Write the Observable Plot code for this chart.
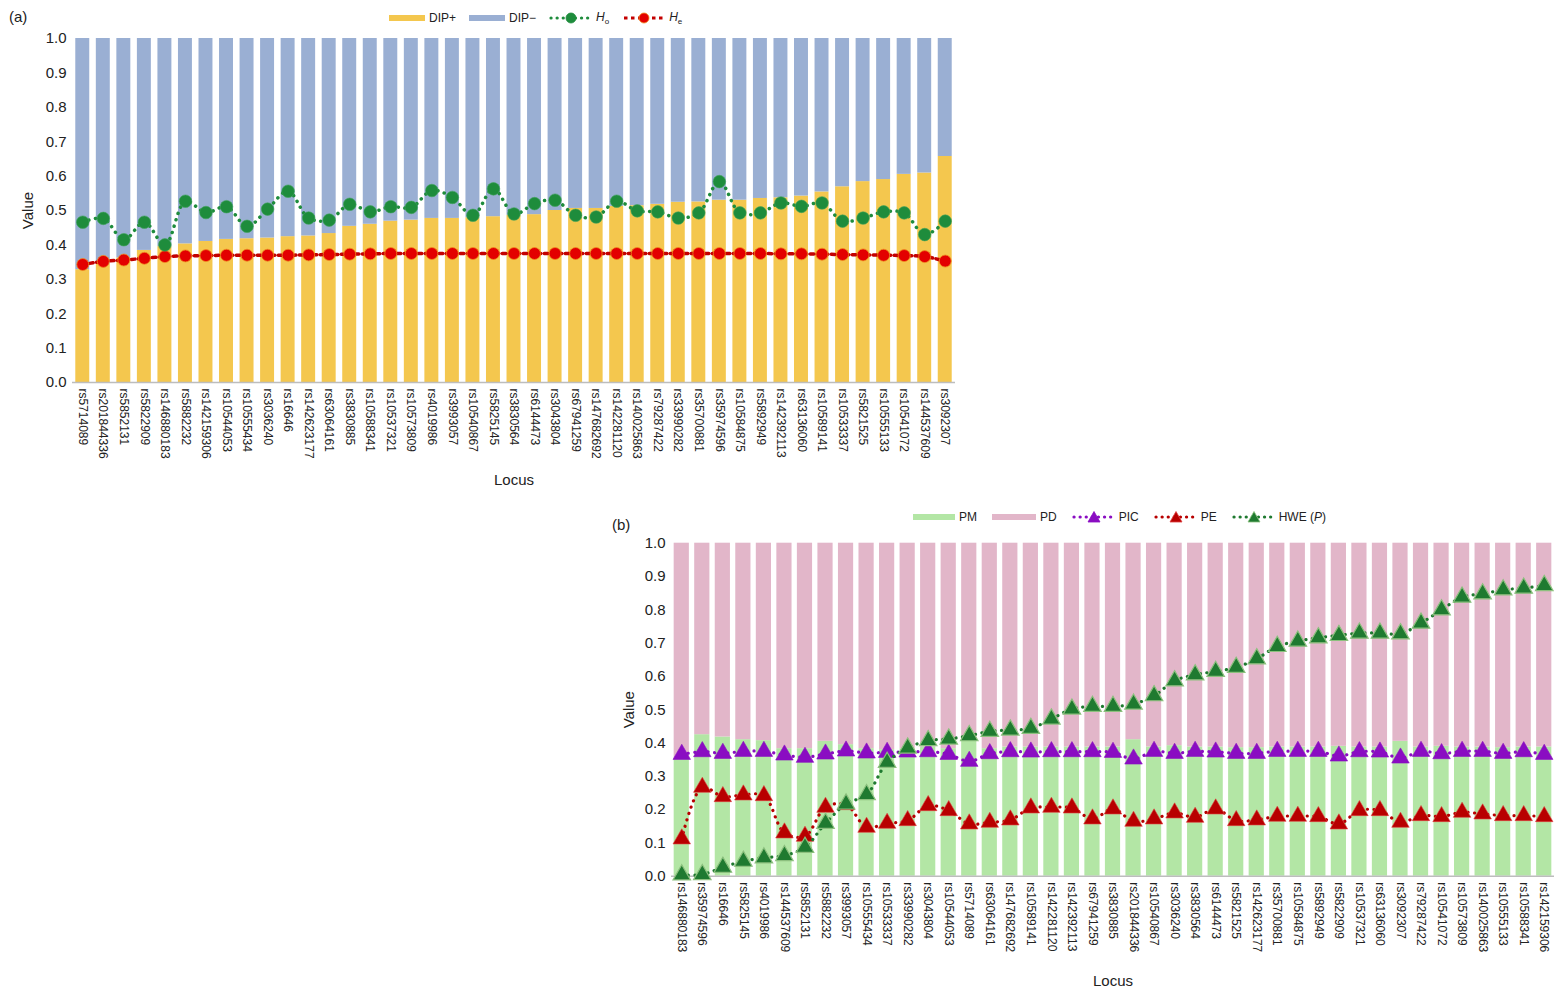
<!DOCTYPE html>
<html>
<head>
<meta charset="utf-8">
<script src="https://cdn.jsdelivr.net/npm/d3@7"></script>
<script src="https://cdn.jsdelivr.net/npm/@observablehq/plot@0.6"></script>
<style>
  html, body { margin: 0; padding: 0; background: #fff; }
  body { width: 1554px; height: 990px; position: relative; overflow: hidden; font-family: "Liberation Sans", Arial, sans-serif; color: #222; }
  .abs { position: absolute; }
  .front { z-index: 5; }
  .panel-tag { font-size: 15px; color: #222; }
  .legend { display: flex; align-items: center; font-size: 12px; color: #222; white-space: nowrap; }
  .legend .item { display: flex; align-items: center; }
  .legend svg { display: block; margin-right: 3px; }
  .legend sub { font-size: 8px; vertical-align: -3px; }
  #legendA .item { margin-right: 13px; }
  #legendB .item { margin-right: 15px; }
</style>
</head>
<body>
<div id="chartA" class="abs" style="left:0px;top:0px;"></div>
<div id="chartB" class="abs" style="left:600px;top:500px;"></div>

<div id="tagA" class="abs panel-tag front" style="left:9px;top:8px;">(a)</div>
<div id="legendA" class="abs legend front" style="left:389px;top:10px;"></div>
<div id="tagB" class="abs panel-tag front" style="left:612px;top:516px;">(b)</div>
<div id="legendB" class="abs legend front" style="left:913px;top:510px;"></div>

<script>
// ---------------- Panel (a) data ----------------
const lociA = ["rs5714089","rs201844336","rs5852131","rs5822909","rs146880183","rs5882232","rs142159306","rs10544053","rs10555434","rs3036240","rs16646","rs142623177","rs63064161","rs3830885","rs10588341","rs10537321","rs10573809","rs4019986","rs3993057","rs10540867","rs5825145","rs3830564","rs6144473","rs3043804","rs67941259","rs147682692","rs142281120","rs140025863","rs79287422","rs33990282","rs35700881","rs35974596","rs10584875","rs5892949","rs142392113","rs63136060","rs10589141","rs10533337","rs5821525","rs10555133","rs10541072","rs144537609","rs3092307"];
const dipPlus = [0.328,0.345,0.362,0.384,0.395,0.403,0.410,0.416,0.418,0.420,0.424,0.426,0.433,0.454,0.460,0.469,0.472,0.477,0.477,0.479,0.482,0.486,0.488,0.500,0.506,0.506,0.512,0.514,0.518,0.524,0.525,0.530,0.530,0.535,0.537,0.542,0.554,0.569,0.584,0.590,0.605,0.609,0.657];
const ho = [0.466,0.477,0.415,0.466,0.400,0.527,0.494,0.511,0.454,0.504,0.556,0.478,0.472,0.518,0.496,0.511,0.509,0.558,0.538,0.486,0.563,0.490,0.520,0.530,0.486,0.481,0.527,0.499,0.496,0.478,0.493,0.584,0.493,0.493,0.522,0.512,0.522,0.469,0.478,0.496,0.493,0.430,0.469];
const he = [0.343,0.352,0.356,0.361,0.366,0.368,0.369,0.370,0.370,0.370,0.370,0.371,0.372,0.373,0.374,0.375,0.375,0.375,0.375,0.375,0.375,0.375,0.375,0.375,0.375,0.375,0.375,0.375,0.375,0.375,0.375,0.375,0.375,0.375,0.374,0.374,0.373,0.372,0.371,0.370,0.369,0.366,0.353];

// ---------------- Panel (b) data ----------------
const lociB = ["rs146880183","rs35974596","rs16646","rs5825145","rs4019986","rs144537609","rs5852131","rs5882232","rs3993057","rs10555434","rs10533337","rs33990282","rs3043804","rs10544053","rs5714089","rs63064161","rs147682692","rs10589141","rs142281120","rs142392113","rs67941259","rs3830885","rs201844336","rs10540867","rs3036240","rs3830564","rs6144473","rs5821525","rs142623177","rs35700881","rs10584875","rs5892949","rs5822909","rs10537321","rs63136060","rs3092307","rs79287422","rs10541072","rs10573809","rs140025863","rs10555133","rs10588341","rs142159306"];
const pm = [0.352,0.425,0.418,0.410,0.407,0.383,0.383,0.405,0.395,0.383,0.380,0.383,0.388,0.383,0.407,0.383,0.388,0.388,0.388,0.388,0.388,0.388,0.410,0.388,0.392,0.388,0.388,0.386,0.386,0.388,0.388,0.388,0.390,0.388,0.388,0.405,0.388,0.390,0.388,0.388,0.386,0.388,0.388];
const pic = [0.366,0.374,0.369,0.375,0.375,0.364,0.357,0.367,0.376,0.370,0.372,0.373,0.374,0.366,0.345,0.368,0.374,0.373,0.374,0.374,0.374,0.372,0.352,0.375,0.369,0.375,0.373,0.369,0.369,0.375,0.375,0.375,0.361,0.374,0.373,0.355,0.375,0.368,0.375,0.375,0.369,0.374,0.366];
const pe = [0.112,0.267,0.239,0.244,0.242,0.130,0.120,0.207,0.215,0.147,0.159,0.167,0.212,0.197,0.157,0.162,0.169,0.205,0.207,0.205,0.172,0.202,0.165,0.172,0.190,0.177,0.202,0.167,0.169,0.180,0.180,0.179,0.157,0.197,0.197,0.162,0.182,0.179,0.192,0.187,0.182,0.182,0.179];
const hwe = [0.004,0.005,0.027,0.045,0.055,0.062,0.087,0.159,0.217,0.245,0.342,0.385,0.407,0.412,0.422,0.435,0.439,0.444,0.472,0.502,0.510,0.510,0.517,0.542,0.587,0.605,0.615,0.627,0.653,0.690,0.706,0.716,0.723,0.730,0.730,0.728,0.760,0.800,0.838,0.848,0.860,0.865,0.873];

// ---------------- Shared ----------------
const yTicks = [0, 0.1, 0.2, 0.3, 0.4, 0.5, 0.6, 0.7, 0.8, 0.9, 1.0];
const FONT = "'Liberation Sans', Arial, sans-serif";

const C = {
  dipPlus: "#F4C74E", dipMinus: "#9AAFD3",
  ho: "#1E8C3C", hoLine: "#1E8C3C",
  he: "#E30000", heStroke: "#F08A20", heLine: "#C40000",
  pm: "#B3E6A5", pd: "#E2B6C9",
  pic: "#8A0DC2", pe: "#B80000", peStroke: "#E04040",
  hwe: "#1F7A30", hweStroke: "#8CC07E"
};

// ---------------- Panel (a) chart ----------------
const rowsA = lociA.map((locus, i) => ({locus, dipPlus: dipPlus[i], ho: ho[i], he: he[i]}));

const chartA = Plot.plot({
  width: 960, height: 500,
  marginLeft: 72, marginRight: 5, marginTop: 38, marginBottom: 118,
  style: {fontFamily: FONT, color: "#222", background: "transparent", overflow: "visible"},
  x: {domain: lociA, paddingInner: 0.32, paddingOuter: 0.16, round: false},
  y: {domain: [0, 1]},
  marks: [
    Plot.barY(rowsA, {x: "locus", y1: 0, y2: "dipPlus", fill: C.dipPlus}),
    Plot.barY(rowsA, {x: "locus", y1: "dipPlus", y2: 1, fill: C.dipMinus}),
    Plot.ruleY([0], {stroke: "#bdbdbd", strokeWidth: 1.5}),
    Plot.line(rowsA, {x: "locus", y: "he", stroke: C.heLine, strokeWidth: 3.5, strokeDasharray: "3.5 3.5", curve: "catmull-rom"}),
    Plot.dot(rowsA, {x: "locus", y: "he", r: 6, fill: C.he, stroke: C.heStroke, strokeWidth: 0.8}),
    Plot.line(rowsA, {x: "locus", y: "ho", stroke: C.hoLine, strokeWidth: 3.5, strokeDasharray: "0.1 6.5", strokeLinecap: "round", curve: "catmull-rom"}),
    Plot.dot(rowsA, {x: "locus", y: "ho", r: 6.3, fill: C.ho, stroke: "#3fa35a", strokeWidth: 0.6}),
    Plot.axisY({ticks: yTicks, tickFormat: d3.format(".1f"), tickSize: 0, tickPadding: 6, fontSize: 15, label: null}),
    Plot.axisY({ticks: [], label: "Value", labelAnchor: "center", labelArrow: "none", labelOffset: 50, fontSize: 15}),
    Plot.axisX({tickRotate: 90, tickSize: 0, tickPadding: 6, fontSize: 12, label: null}),
    Plot.axisX({ticks: [], label: "Locus", labelAnchor: "center", labelArrow: "none", labelOffset: 102, fontSize: 15})
  ]
});
document.getElementById("chartA").appendChild(chartA);

// ---------------- Panel (b) chart ----------------
const rowsB = lociB.map((locus, i) => ({locus, pm: pm[i], pic: pic[i], pe: pe[i], hwe: hwe[i]}));

const chartB = Plot.plot({
  width: 954, height: 490,
  marginLeft: 71, marginRight: 0, marginTop: 42.7, marginBottom: 114.3,
  style: {fontFamily: FONT, color: "#222", background: "transparent", overflow: "visible"},
  x: {domain: lociB, paddingInner: 0.26, paddingOuter: 0.13, round: false},
  y: {domain: [0, 1]},
  marks: [
    Plot.barY(rowsB, {x: "locus", y1: 0, y2: "pm", fill: C.pm}),
    Plot.barY(rowsB, {x: "locus", y1: "pm", y2: 1, fill: C.pd}),
    Plot.ruleY([0], {stroke: "#bdbdbd", strokeWidth: 1.5}),
    Plot.line(rowsB, {x: "locus", y: "pic", stroke: C.pic, strokeWidth: 3.2, strokeDasharray: "0.1 6.5", strokeLinecap: "round", curve: "catmull-rom"}),
    Plot.dot(rowsB, {x: "locus", y: "pic", r: 6.5, symbol: "triangle", fill: C.pic, stroke: C.pic, strokeWidth: 0.6}),
    Plot.line(rowsB, {x: "locus", y: "pe", stroke: C.pe, strokeWidth: 3.2, strokeDasharray: "0.1 6.5", strokeLinecap: "round", curve: "catmull-rom"}),
    Plot.dot(rowsB, {x: "locus", y: "pe", r: 6.5, symbol: "triangle", fill: C.pe, stroke: C.peStroke, strokeWidth: 0.6}),
    Plot.line(rowsB, {x: "locus", y: "hwe", stroke: C.hwe, strokeWidth: 3.2, strokeDasharray: "0.1 6.5", strokeLinecap: "round", curve: "catmull-rom"}),
    Plot.dot(rowsB, {x: "locus", y: "hwe", r: 6.5, symbol: "triangle", fill: C.hwe, stroke: C.hweStroke, strokeWidth: 1.2}),
    Plot.axisY({ticks: yTicks, tickFormat: d3.format(".1f"), tickSize: 0, tickPadding: 6, fontSize: 15, label: null}),
    Plot.axisY({ticks: [], label: "Value", labelAnchor: "center", labelArrow: "none", labelOffset: 48, fontSize: 15}),
    Plot.axisX({tickRotate: 90, tickSize: 0, tickPadding: 6, fontSize: 12, label: null}),
    Plot.axisX({ticks: [], label: "Locus", labelAnchor: "center", labelArrow: "none", labelOffset: 110, fontSize: 15})
  ]
});
document.getElementById("chartB").appendChild(chartB);

// ---------------- Legends ----------------
const NS = "http://www.w3.org/2000/svg";
function swatchBar(color, w) {
  const s = document.createElementNS(NS, "svg");
  s.setAttribute("width", w + 1); s.setAttribute("height", 10);
  const r = document.createElementNS(NS, "rect");
  r.setAttribute("x", 0); r.setAttribute("y", 2); r.setAttribute("width", w); r.setAttribute("height", 6);
  r.setAttribute("fill", color);
  s.appendChild(r);
  return s;
}
function swatchLine(lineColor, fill, stroke, dash, cap, marker) {
  const s = document.createElementNS(NS, "svg");
  s.setAttribute("width", 44); s.setAttribute("height", 14);
  const l = document.createElementNS(NS, "line");
  l.setAttribute("x1", 2); l.setAttribute("x2", 42); l.setAttribute("y1", 7); l.setAttribute("y2", 7);
  l.setAttribute("stroke", lineColor); l.setAttribute("stroke-width", 3.2);
  l.setAttribute("stroke-dasharray", dash); l.setAttribute("stroke-linecap", cap);
  s.appendChild(l);
  let m;
  if (marker === "circle") {
    m = document.createElementNS(NS, "circle");
    m.setAttribute("cx", 22); m.setAttribute("cy", 7); m.setAttribute("r", 5);
  } else {
    m = document.createElementNS(NS, "path");
    m.setAttribute("d", "M22,1.5 L28,12 L16,12 Z");
  }
  m.setAttribute("fill", fill); m.setAttribute("stroke", stroke); m.setAttribute("stroke-width", 0.8);
  s.appendChild(m);
  return s;
}
function addItem(container, swatch, html) {
  const it = document.createElement("div");
  it.className = "item";
  it.appendChild(swatch);
  const t = document.createElement("span");
  t.innerHTML = html;
  it.appendChild(t);
  container.appendChild(it);
}
const legA = document.getElementById("legendA");
addItem(legA, swatchBar(C.dipPlus, 36), "DIP+");
addItem(legA, swatchBar(C.dipMinus, 36), "DIP\u2212");
addItem(legA, swatchLine(C.hoLine, C.ho, C.ho, "0.1 6", "round", "circle"), "<i>H</i><sub>o</sub>");
addItem(legA, swatchLine(C.heLine, C.he, C.heStroke, "3.5 3.5", "butt", "circle"), "<i>H</i><sub>e</sub>");

const legB = document.getElementById("legendB");
addItem(legB, swatchBar(C.pm, 42), "PM");
addItem(legB, swatchBar(C.pd, 44), "PD");
addItem(legB, swatchLine(C.pic, C.pic, C.pic, "0.1 6", "round", "tri"), "PIC");
addItem(legB, swatchLine(C.pe, C.pe, C.peStroke, "0.1 6", "round", "tri"), "PE");
addItem(legB, swatchLine(C.hwe, C.hwe, C.hweStroke, "0.1 6", "round", "tri"), "HWE (<i>P</i>)");
</script>
</body>
</html>
